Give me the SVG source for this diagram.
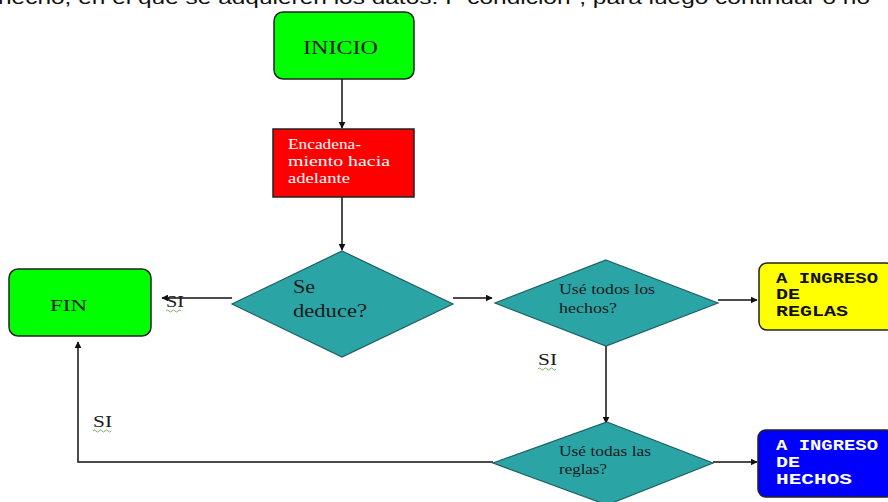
<svg xmlns="http://www.w3.org/2000/svg" width="888" height="502" viewBox="0 0 888 502">
<style>
.box{stroke:#222;stroke-width:1.5}
.dia{fill:#2ba4a6;stroke:#1f5f60;stroke-width:1.2}
.ser{font-family:"Liberation Serif","Times New Roman",serif;fill:#1a1a1a}
.wht{fill:#fff}
.mono{font-family:"Liberation Mono","Courier New",monospace;font-weight:bold;font-size:15px}
.con{stroke:#111;stroke-width:1.5;fill:none}
.wav{stroke:#5a9a3a;stroke-width:0.8;fill:none}
</style>
<defs>
<marker id="ah" viewBox="0 0 10 10" refX="9" refY="5" markerWidth="7" markerHeight="7" orient="auto" markerUnits="userSpaceOnUse">
<path d="M0,0 L10,5 L0,10 z" fill="#111"/>
</marker>
</defs>
<rect width="888" height="502" fill="#fff"/>
<text x="-2" y="4" font-family="Liberation Sans, Arial, sans-serif" font-size="19" fill="#111" textLength="872" lengthAdjust="spacingAndGlyphs">hecho, en el que se adquieren los datos. I  "condición", para luego continuar  ó no</text>

<g id="connectors">
<path class="con" d="M342,79 V128" marker-end="url(#ah)"/>
<path class="con" d="M342,197 V250" marker-end="url(#ah)"/>
<path class="con" d="M232,298 H162" marker-end="url(#ah)"/>
<path class="con" d="M453,298 H492" marker-end="url(#ah)"/>
<path class="con" d="M718,300 H757" marker-end="url(#ah)"/>
<path class="con" d="M606,346 V423" marker-end="url(#ah)"/>
<path class="con" d="M713,462 H757" marker-end="url(#ah)"/>
<path class="con" d="M493,462 H78 V342" marker-end="url(#ah)"/>
<text class="ser" x="166" y="307" font-size="16" textLength="18" lengthAdjust="spacingAndGlyphs">SI</text>
<path class="wav" d="M166,311 q1.5,-2 3,0 t3,0 t3,0 t3,0 t3,0"/>
<text class="ser" x="538" y="365" font-size="16" textLength="19" lengthAdjust="spacingAndGlyphs">SI</text>
<path class="wav" d="M538,369 q1.5,-2 3,0 t3,0 t3,0 t3,0 t3,0 t3,0"/>
<text class="ser" x="93" y="427" font-size="16" textLength="19" lengthAdjust="spacingAndGlyphs">SI</text>
<path class="wav" d="M93,431 q1.5,-2 3,0 t3,0 t3,0 t3,0 t3,0 t3,0"/>
</g>

<g id="inicio">
<rect class="box" x="274" y="12" width="140" height="67" rx="9" fill="#00ff00"/>
<text class="ser" x="303" y="54" font-size="18" textLength="75" lengthAdjust="spacingAndGlyphs">INICIO</text>
</g>

<g id="encadenamiento">
<rect class="box" x="273" y="129" width="141" height="68" fill="#ff0000"/>
<text class="ser wht" x="288" y="149" font-size="15" textLength="73" lengthAdjust="spacingAndGlyphs">Encadena-</text>
<text class="ser wht" x="288" y="166" font-size="15" textLength="102" lengthAdjust="spacingAndGlyphs">miento hacia</text>
<text class="ser wht" x="288" y="183" font-size="15" textLength="62" lengthAdjust="spacingAndGlyphs">adelante</text>
</g>

<g id="se-deduce">
<polygon class="dia" points="342,251 453,304 342,357 232,304"/>
<text class="ser" x="293" y="293" font-size="18" textLength="22" lengthAdjust="spacingAndGlyphs">Se</text>
<text class="ser" x="293" y="317" font-size="18" textLength="74" lengthAdjust="spacingAndGlyphs">deduce?</text>
</g>

<g id="fin">
<rect class="box" x="9" y="269" width="142" height="67" rx="9" fill="#00ff00"/>
<text class="ser" x="50" y="311" font-size="17" textLength="37" lengthAdjust="spacingAndGlyphs">FIN</text>
</g>

<g id="use-hechos">
<polygon class="dia" points="606,260 718,303 606,346 495,303"/>
<text class="ser" x="559" y="294" font-size="15" textLength="96" lengthAdjust="spacingAndGlyphs">Usé todos los</text>
<text class="ser" x="559" y="313" font-size="15" textLength="58" lengthAdjust="spacingAndGlyphs">hechos?</text>
</g>

<g id="ingreso-reglas">
<rect class="box" x="759" y="263" width="135" height="67" rx="8" fill="#ffff00"/>
<text class="mono" x="776" y="283" fill="#111" textLength="102" lengthAdjust="spacingAndGlyphs">A INGRESO</text>
<text class="mono" x="776" y="299" fill="#111" textLength="24" lengthAdjust="spacingAndGlyphs">DE</text>
<text class="mono" x="776" y="316" fill="#111" textLength="72" lengthAdjust="spacingAndGlyphs">REGLAS</text>
</g>

<g id="use-reglas">
<polygon class="dia" points="607,422 713,463 607,505 493,463"/>
<text class="ser" x="559" y="456" font-size="15" textLength="92" lengthAdjust="spacingAndGlyphs">Usé todas las</text>
<text class="ser" x="559" y="474" font-size="15" textLength="48" lengthAdjust="spacingAndGlyphs">reglas?</text>
</g>

<g id="ingreso-hechos">
<rect class="box" x="758" y="430" width="136" height="67" rx="8" fill="#0000ff"/>
<text class="mono" x="776" y="450" fill="#fff" textLength="102" lengthAdjust="spacingAndGlyphs">A INGRESO</text>
<text class="mono" x="776" y="467" fill="#fff" textLength="24" lengthAdjust="spacingAndGlyphs">DE</text>
<text class="mono" x="776" y="484" fill="#fff" textLength="76" lengthAdjust="spacingAndGlyphs">HECHOS</text>
</g>
</svg>
